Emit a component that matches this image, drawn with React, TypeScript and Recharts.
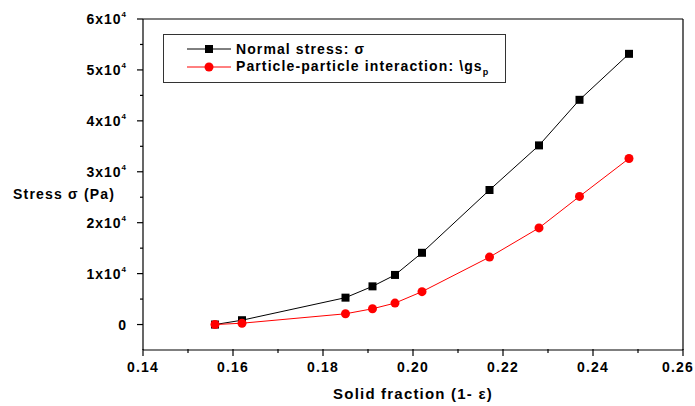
import { Line, LineChart, XAxis, YAxis } from "recharts";

const solidFraction = [0.156, 0.162, 0.185, 0.191, 0.196, 0.202, 0.217, 0.228, 0.237, 0.248];
const normalStress = [0, 850, 5280, 7500, 9740, 14090, 26420, 35180, 44130, 53160];
const particleStress = [0, 260, 2110, 3100, 4210, 6460, 13240, 18970, 25160, 32610];

const xTicks = [0.14, 0.15, 0.16, 0.17, 0.18, 0.19, 0.2, 0.21, 0.22, 0.23, 0.24, 0.25, 0.26];
const yTicks = [0, 5000, 10000, 15000, 20000, 25000, 30000, 35000, 40000, 45000, 50000, 55000, 60000];

const data = solidFraction.map((x, i) => ({
  x,
  normal: normalStress[i],
  particle: particleStress[i],
}));

const font = "'Liberation Sans', Arial, sans-serif";
const chartWidth = 695;

const XTick = (props: any) => {
  const { x, y, payload } = props;
  const v = payload.value as number;
  const major = Math.round(v * 100) % 2 === 0;
  // keep the last label inside the page
  const lx = Math.min(x, chartWidth - 17);
  return (
    <g>
      <line x1={x} x2={x} y1={y - 1} y2={y + (major ? 6 : 3)} stroke="#000" strokeWidth={1.2} />
      {major && (
        <text
          x={lx}
          y={y + 22}
          textAnchor="middle"
          fontFamily={font}
          fontWeight="bold"
          fontSize={14}
          letterSpacing={1.2}
          fill="#000"
        >
          {v.toFixed(2)}
        </text>
      )}
    </g>
  );
};

const YTick = (props: any) => {
  const { x, y, payload } = props;
  const v = payload.value as number;
  const major = v % 10000 === 0;
  return (
    <g>
      <line x1={x - (major ? 6 : 3)} x2={x} y1={y} y2={y} stroke="#000" strokeWidth={1.2} />
      {major && (
        <text
          x={x - 16}
          y={y + 5}
          textAnchor="end"
          fontFamily={font}
          fontWeight="bold"
          fontSize={14}
          letterSpacing={1}
          fill="#000"
        >
          {v === 0 ? (
            "0"
          ) : (
            <>
              {v / 10000}x10
              <tspan fontSize={8} dy={-7}>4</tspan>
            </>
          )}
        </text>
      )}
    </g>
  );
};

const Square = (props: any) => {
  const { cx, cy } = props;
  return <rect x={cx - 4} y={cy - 4} width={8} height={8} fill="#000" />;
};

const Circle = (props: any) => {
  const { cx, cy } = props;
  return <circle cx={cx} cy={cy} r={4.5} fill="#ff0000" />;
};

const LegendBox = () => (
  <div
    style={{
      position: "absolute",
      left: 163,
      top: 34,
      border: "1px solid #333",
      width: 341,
      height: 47,
      fontFamily: font,
      fontWeight: "bold",
      fontSize: 14,
      letterSpacing: 1.1,
      color: "#000",
      background: "#fff",
      whiteSpace: "nowrap",
    }}
  >
    <div style={{ display: "flex", alignItems: "center", height: 18, marginTop: 5 }}>
      <svg width={72} height={12} style={{ flex: "none" }}>
        <line x1={23} x2={67} y1={6} y2={6} stroke="#000" strokeWidth={1} />
        <rect x={41} y={2} width={8} height={8} fill="#000" />
      </svg>
      <span>Normal stress: σ</span>
    </div>
    <div style={{ display: "flex", alignItems: "center", height: 18 }}>
      <svg width={72} height={12} style={{ flex: "none" }}>
        <line x1={23} x2={67} y1={6} y2={6} stroke="#ff0000" strokeWidth={1} />
        <circle cx={45} cy={6} r={4.5} fill="#ff0000" />
      </svg>
      <span>
        Particle-particle interaction: \gs
        <sub style={{ fontSize: 9 }}>p</sub>
      </span>
    </div>
  </div>
);

const YTitle = (props: any) => {
  const { viewBox } = props;
  return (
    <text
      x={13}
      y={viewBox.y + viewBox.height / 2 + 14}
      fontFamily={font}
      fontWeight="bold"
      fontSize={14}
      letterSpacing={1.2}
      fill="#000"
    >
      Stress σ (Pa)
    </text>
  );
};

const XTitle = (props: any) => {
  const { viewBox } = props;
  return (
    <text
      x={viewBox.x + viewBox.width / 2}
      y={viewBox.y + 49}
      textAnchor="middle"
      fontFamily={font}
      fontWeight="bold"
      fontSize={15}
      letterSpacing={1.2}
      fill="#000"
    >
      Solid fraction (1- ε)
    </text>
  );
};

export default function App() {
  return (
    <div style={{ width: chartWidth, height: 406, background: "#fff", position: "relative" }}>
      <style>{"body{margin:0}"}</style>
      <LineChart width={chartWidth} height={406} data={data} margin={{ top: 18, right: 11, bottom: 26, left: 83 }}>
        <XAxis
          dataKey="x"
          type="number"
          domain={[0.14, 0.26]}
          ticks={xTicks}
          tick={<XTick />}
          tickLine={false}
          tickSize={0}
          tickMargin={0}
          height={30}
          axisLine={{ stroke: "#000", strokeWidth: 1.2 }}
          interval={0}
          label={<XTitle />}
        />
        <XAxis
          xAxisId="top"
          orientation="top"
          dataKey="x"
          type="number"
          domain={[0.14, 0.26]}
          tick={false}
          tickLine={false}
          height={1}
          axisLine={{ stroke: "#000", strokeWidth: 1.2 }}
        />
        <YAxis
          type="number"
          domain={[-5000, 60000]}
          ticks={yTicks}
          tick={<YTick />}
          tickLine={false}
          tickSize={0}
          tickMargin={0}
          width={60}
          axisLine={{ stroke: "#000", strokeWidth: 1.2 }}
          interval={0}
          label={<YTitle />}
        />
        <YAxis
          yAxisId="right"
          orientation="right"
          type="number"
          domain={[-5000, 60000]}
          tick={false}
          tickLine={false}
          width={1}
          axisLine={{ stroke: "#000", strokeWidth: 1.2 }}
        />
        <Line
          dataKey="normal"
          stroke="#000"
          strokeWidth={1}
          dot={<Square />}
          activeDot={false}
          isAnimationActive={false}
        />
        <Line
          dataKey="particle"
          stroke="#ff0000"
          strokeWidth={1}
          dot={<Circle />}
          activeDot={false}
          isAnimationActive={false}
        />
      </LineChart>
      <LegendBox />
    </div>
  );
}
